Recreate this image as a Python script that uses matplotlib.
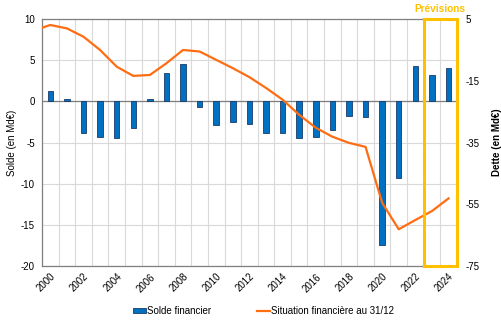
import matplotlib
matplotlib.use("Agg")
import matplotlib.pyplot as plt
import matplotlib.transforms as mtransforms
from matplotlib.patches import Rectangle, Patch
from matplotlib.lines import Line2D
import numpy as np

plt.rcParams['font.family'] = ['Liberation Sans', 'DejaVu Sans']
plt.rcParams['axes.unicode_minus'] = False

# Annual financial balance (bn EUR), left axis
years = list(range(2000, 2025))
solde = [1.3, 0.3, -3.8, -4.3, -4.45, -3.2, 0.3, 3.5, 4.6, -0.7,
         -2.9, -2.5, -2.8, -3.8, -3.8, -4.45, -4.3, -3.45, -1.8, -1.9,
         -17.4, -9.3, 4.3, 3.15, 4.1]

# Financial position at 31/12 (bn EUR), right axis (series starts in 1999)
dette_years = list(range(1999, 2025))
dette = [1.3, 3.1, 2.0, -0.7, -5.0, -10.4, -13.4, -13.1, -9.3, -5.0, -5.5,
         -8.2, -10.9, -13.8, -17.3, -21.1, -26.0, -30.2, -33.1, -35.1, -36.4,
         -54.5, -63.1, -60.1, -57.2, -53.1]

forecast_years = [2023, 2024]

left_ticks = [10, 5, 0, -5, -10, -15, -20]
right_ticks = [5, -15, -35, -55, -75]
xtick_labels = [str(y) for y in range(2000, 2025, 2)]

BLUE = '#0070C0'
BLUE_EDGE = '#1B3A6B'
ORANGE = '#FF6D12'
YELLOW = '#FFC000'
GRID = '#D9D9D9'
AXIS = '#7F7F7F'

fig = plt.figure(figsize=(5.01, 3.24), dpi=100)
ax = fig.add_axes([0.0838, 0.179, 0.828, 0.762])

idx = {y: i for i, y in enumerate(years)}
x_bars = np.array([idx[y] for y in years])
ax.bar(x_bars, solde, width=0.33, color=BLUE, edgecolor=BLUE_EDGE,
       linewidth=0.6, zorder=3)

ax.set_xlim(-0.5, len(years) - 0.5)
ax.set_ylim(-20, 10)
ax.set_yticks(left_ticks)
ax.set_yticklabels([str(t) for t in left_ticks])

# category boundaries as vertical gridlines
for b in np.arange(0.5, len(years) - 0.5, 1):
    ax.axvline(b, color=GRID, lw=0.8, zorder=0)
for t in left_ticks:
    ax.axhline(t, color=GRID, lw=0.8, zorder=0)
ax.axhline(0, color=AXIS, lw=0.9, zorder=2)

ax.set_xticks([idx[y] for y in range(2000, 2025, 2)])
ax.set_xticklabels(xtick_labels, rotation=45, ha='right',
                   rotation_mode='anchor')
ax.tick_params(axis='both', length=0, labelsize=7, colors='#000000')
ax.tick_params(axis='x', pad=4)
ax.tick_params(axis='y', pad=5)

for s in ['left', 'bottom', 'top']:
    ax.spines[s].set_color(AXIS)
    ax.spines[s].set_linewidth(0.9)
ax.spines['right'].set_visible(False)

ax.set_ylabel('Solde (en Md€)', fontsize=7, labelpad=3)

ax2 = ax.twinx()
x_line = [y - years[0] for y in dette_years]
ax2.plot(x_line, dette, color=ORANGE, lw=1.6, zorder=4,
         solid_joinstyle='round')
ax2.set_ylim(-75, 5)
ax2.set_yticks(right_ticks)
ax2.set_yticklabels([str(t) for t in right_ticks])
ax2.tick_params(axis='y', length=0, labelsize=7, pad=6)
for s in ax2.spines.values():
    s.set_visible(False)
ax2.set_ylabel('Dette (en Md€)', fontsize=7, fontweight='bold', labelpad=9)
ax2.set_xlim(-0.5, len(years) - 0.5)

# forecast frame
x0 = idx[forecast_years[0]] - 0.5
x1 = idx[forecast_years[-1]] + 0.5
trans = mtransforms.blended_transform_factory(ax.transData, ax.transAxes)
ax2.add_patch(Rectangle((x0, 0), x1 - x0, 1, transform=trans, fill=False,
                        edgecolor=YELLOW, lw=2.2, clip_on=False, zorder=6))
ax2.text((x0 + x1) / 2, 1.022, 'Prévisions', transform=trans,
         ha='center', va='bottom', color=YELLOW, fontsize=7.3,
         fontweight='bold')

handles = [Patch(facecolor=BLUE, edgecolor=BLUE_EDGE, linewidth=0.6),
           Line2D([], [], color=ORANGE, lw=1.6)]
fig.legend(handles, ['Solde financier', 'Situation financière au 31/12'],
           loc='center', bbox_to_anchor=(0.526, 0.04), ncol=2, frameon=False,
           fontsize=7, handlelength=1.3, handleheight=0.45,
           handletextpad=0.1, columnspacing=4.8)

fig.savefig('out.png', dpi=100)
